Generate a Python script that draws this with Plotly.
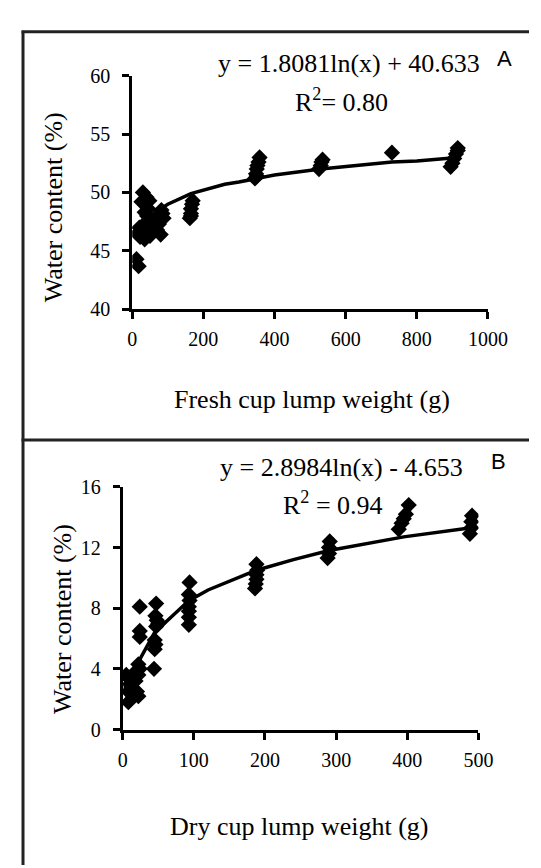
import plotly.graph_objects as go

W, H = 541, 868

# ---------------- Panel A data (fresh cup lump) ----------------
a_x = [18, 12, 15, 20, 26, 30, 22,
       35, 38, 40, 42, 45, 48, 40, 50, 55, 35,
       60, 65, 70, 75, 80, 82, 85, 88, 70,
       162, 165, 165, 168, 170, 165,
       345, 348, 350, 352, 355, 358, 350,
       525, 530, 532, 535,
       730,
       895, 900, 905, 910, 915, 915]
a_y = [43.7, 44.3, 46.5, 47.0, 49.2, 50.0, 46.2,
       46.0, 46.8, 47.5, 48.0, 48.6, 49.3, 49.6, 46.3, 47.2, 48.3,
       47.0, 47.5, 48.0, 47.3, 46.4, 48.5, 48.2, 47.8, 46.8,
       47.8, 48.2, 48.6, 49.0, 49.3, 48.0,
       51.2, 51.6, 52.0, 52.3, 52.6, 53.0, 51.4,
       52.0, 52.3, 52.6, 52.8,
       53.4,
       52.2, 52.5, 52.9, 53.3, 53.6, 53.8]
a_trend_x = [20, 50, 80, 100, 165, 200, 260, 300, 350, 400, 530, 600, 730, 800, 915]
a_trend_y = [46.0, 47.7, 48.6, 49.0, 49.9, 50.2, 50.7, 50.9, 51.2, 51.5, 52.0, 52.2, 52.6, 52.7, 53.0]

# ---------------- Panel B data (dry cup lump) ----------------
b_x = [8, 8, 10, 8, 5, 12, 15, 18, 20, 22, 22, 24, 22, 24, 24, 24, 20,
       44, 45, 46, 45, 47, 48, 46, 47, 50,
       93, 93, 93, 93, 94, 93, 94,
       186, 187, 188, 188, 189, 188,
       288, 290, 290, 291,
       388, 392, 395, 398, 402,
       488, 490, 490, 491]
b_y = [1.8, 2.5, 3.0, 3.4, 3.6, 2.8, 2.2, 3.2, 2.5, 2.2, 3.6, 4.0, 4.3, 6.1, 6.5, 8.1, 3.9,
       4.0, 5.3, 5.6, 5.9, 6.8, 7.2, 7.5, 8.3, 7.0,
       6.9, 7.4, 7.8, 8.1, 8.5, 8.9, 9.7,
       9.3, 9.6, 9.9, 10.2, 10.5, 10.9,
       11.3, 11.6, 12.0, 12.4,
       13.2, 13.6, 13.9, 14.2, 14.8,
       12.9, 13.3, 13.7, 14.1]
b_trend_x = [10, 20, 25, 45, 93, 120, 188, 240, 290, 350, 395, 490]
b_trend_y = [2.0, 4.0, 4.7, 6.4, 8.5, 9.2, 10.5, 11.2, 11.8, 12.3, 12.7, 13.3]

a_xticks = [0, 200, 400, 600, 800, 1000]
a_yticks = [40, 45, 50, 55, 60]
b_xticks = [0, 100, 200, 300, 400, 500]
b_yticks = [0, 4, 8, 12, 16]

a_eq = "y = 1.8081ln(x) + 40.633"
a_r2 = "R<sup>2</sup>= 0.80"
b_eq = "y = 2.8984ln(x) - 4.653"
b_r2 = "R<sup>2</sup> = 0.94"

SERIF = "Liberation Serif, Times New Roman, serif"
SANS = "Liberation Sans, Arial, sans-serif"


def px(x):
    return x / W


def py(y):
    return 1 - y / H


marker = dict(symbol="diamond", size=12.5, color="black")
line = dict(color="black", width=3.5)

fig = go.Figure()
fig.add_trace(go.Scatter(x=a_trend_x, y=a_trend_y, mode="lines", line=line,
                         xaxis="x", yaxis="y", showlegend=False, hoverinfo="skip"))
fig.add_trace(go.Scatter(x=a_x, y=a_y, mode="markers", marker=marker,
                         xaxis="x", yaxis="y", showlegend=False))
fig.add_trace(go.Scatter(x=b_trend_x, y=b_trend_y, mode="lines", line=line,
                         xaxis="x2", yaxis="y2", showlegend=False, hoverinfo="skip"))
fig.add_trace(go.Scatter(x=b_x, y=b_y, mode="markers", marker=marker,
                         xaxis="x2", yaxis="y2", showlegend=False))

axis_common = dict(showline=True, linecolor="black", linewidth=3,
                   ticks="outside", ticklen=7, tickwidth=3, tickcolor="black",
                   showgrid=False, zeroline=False,
                   tickfont=dict(family=SERIF, size=20, color="black"))

fig.update_layout(
    width=W, height=H,
    margin=dict(l=0, r=0, t=0, b=0),
    paper_bgcolor="white", plot_bgcolor="white",
    xaxis=dict(domain=[px(125), px(498)], range=[0, 1000], tickvals=a_xticks,
               anchor="y", ticklabelstandoff=3, **axis_common),
    yaxis=dict(domain=[py(298), py(58)], range=[40, 60], tickvals=a_yticks,
               anchor="x", ticklabelstandoff=8, **axis_common),
    xaxis2=dict(domain=[px(115), px(488)], range=[0, 500], tickvals=b_xticks,
                anchor="y2", ticklabelstandoff=3, **axis_common),
    yaxis2=dict(domain=[py(729), py(480)], range=[0, 16], tickvals=b_yticks,
                anchor="x2", ticklabelstandoff=8, **axis_common),
)

border = dict(color="#222222", width=3)
fig.add_shape(type="line", xref="paper", yref="paper", x0=px(10.5), x1=px(10.5),
              y0=py(12), y1=py(868), line=border)
fig.add_shape(type="line", xref="paper", yref="paper", x0=px(9), x1=1,
              y0=py(13), y1=py(13), line=border)
fig.add_shape(type="line", xref="paper", yref="paper", x0=px(9), x1=1,
              y0=py(432), y1=py(432), line=border)


def ann(text, x, y, size, family=SERIF, angle=0):
    fig.add_annotation(text=text, x=px(x), y=py(y), xref="paper", yref="paper",
                       xanchor="center", yanchor="middle", showarrow=False,
                       textangle=angle,
                       font=dict(family=family, size=size, color="black"))


ann(a_eq, 352, 46, 26)
ann(a_r2, 344, 84, 26)
ann("A", 515, 41, 22, SANS)
ann("Fresh cup lump weight (g)", 314, 390, 26)
ann("Water content (%)", 42, 193, 26, angle=-90)

ann(b_eq, 344, 460, 26)
ann(b_r2, 336, 497, 26)
ann("B", 509, 454, 22, SANS)
ann("Dry cup lump weight (g)", 300, 829, 26)
ann("Water content (%)", 52, 616, 26, angle=-90)

fig.write_html("out.html")
